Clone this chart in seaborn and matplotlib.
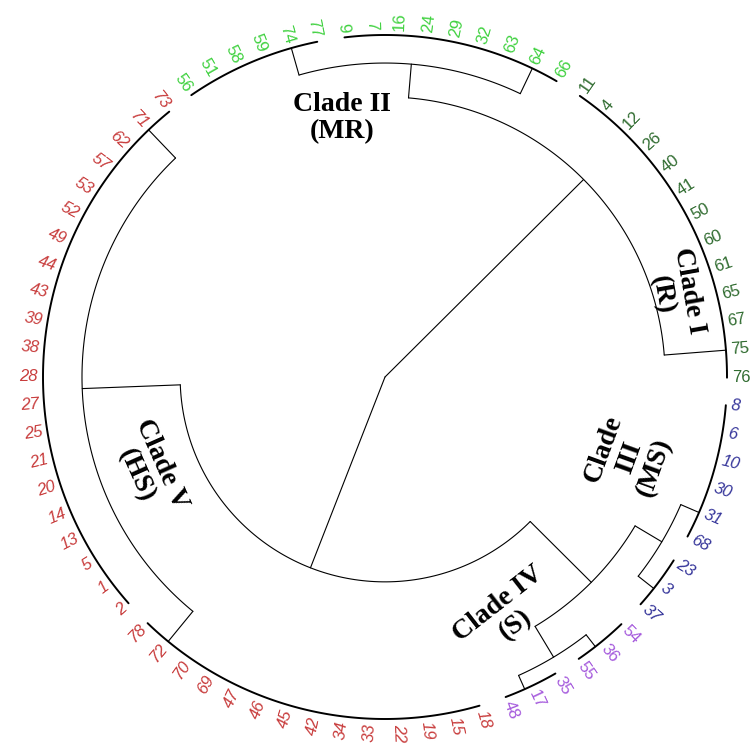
import numpy as np
import pandas as pd
import matplotlib
matplotlib.use('Agg')
import matplotlib.pyplot as plt
import seaborn as sns

# leaf groups (genotypes joined at zero distance), clockwise from upper left
grp_2a = [56, 51, 58, 59, 74, 77]
grp_2b = [9, 7, 16, 24, 29, 32, 63, 64, 66]
grp_1 = [11, 4, 12, 26, 40, 41, 50, 60, 61, 65, 67, 75, 76]
grp_3a = [8, 6, 10, 30, 31, 68]
grp_3b = [23, 3, 37]
grp_4a = [54, 36, 55]
grp_4b = [35, 17, 48]
grp_5a = [18, 15, 19, 22, 33, 34, 42, 45, 46, 47, 69, 70, 72, 78]
grp_5b = [2, 1, 5, 13, 14, 20, 21, 25, 27, 28, 38, 39, 43, 44, 49, 52, 53,
          57, 62, 71, 73]

group_names = ['2a', '2b', '1', '3a', '3b', '4a', '4b', '5a', '5b']
group_members = [grp_2a, grp_2b, grp_1, grp_3a, grp_3b, grp_4a, grp_4b,
                 grp_5a, grp_5b]
group_clade = ['II', 'II', 'I', 'III', 'III', 'IV', 'IV', 'V', 'V']

# merges: node, two children, relative distance (root = 1)
merge_node = ['II', 'I+II', 'III', 'IV', 'III+IV', 'V', 'III-V', 'root']
merge_a = ['2a', 'II', '3a', '4a', 'III', '5a', 'III+IV', 'I+II']
merge_b = ['2b', '1', '3b', '4b', 'IV', '5b', 'V', 'III-V']
merge_dist = [0.082, 0.181, 0.058, 0.044, 0.149, 0.114, 0.401, 1.0]

clade_ids = ['I', 'II', 'III', 'IV', 'V']
clade_text = ['Clade I\n(R)', 'Clade II\n(MR)', 'Clade\nIII\n(MS)',
              'Clade IV\n(S)', 'Clade V\n(HS)']

# style / layout
W, H = 752, 749
CX, CY = 385, 377
R_LEAF = 342
LABEL_R = 347
START = 124.5
COLORS = {'I': '#2f6b2f', 'II': '#3fd13f', 'III': '#35359a',
          'IV': '#a458dc', 'V': '#c83c3c'}
ITALIC = {'I': 'normal', 'II': 'normal', 'III': 'italic', 'IV': 'normal',
          'V': 'italic'}
CLADE_POS = {'I': (676, 293, -80), 'II': (342, 118, 0), 'III': (629, 458, 70),
             'IV': (507, 614, 38), 'V': (149, 470, -66)}

n_leaves = sum(len(g) for g in group_members)
step = 360.0 / n_leaves


def ang(p):
    return np.deg2rad(START - p * step)


def xy(p, r):
    a = ang(p)
    return CX + r * np.cos(a), CY - r * np.sin(a)


segs = []


def add_seg(kind, p0, p1, r0, r1):
    ps = np.linspace(p0, p1, 120)
    rs = np.linspace(r0, r1, 120)
    x, y = xy(ps, rs)
    segs.append(pd.DataFrame({'x': x, 'y': y, 'seg': len(segs), 'kind': kind}))


pos, rad = {}, {}
leaf_rows = []
idx = 0
for name, members, clade in zip(group_names, group_members, group_clade):
    s = idx
    p = s
    for k in range(1, len(members)):
        p = (p + s + k) / 2.0
    pos[name], rad[name] = p, R_LEAF
    add_seg('outer', s, s + len(members) - 1, R_LEAF, R_LEAF)
    for m in members:
        leaf_rows.append((idx, m, clade))
        idx += 1

for node, a, b, d in zip(merge_node, merge_a, merge_b, merge_dist):
    r = R_LEAF * (1 - d)
    pa, pb = pos[a], pos[b]
    if r > 0:
        add_seg('inner', pa, pb, r, r)
    add_seg('inner', pa, pa, r, rad[a])
    add_seg('inner', pb, pb, r, rad[b])
    pos[node], rad[node] = (pa + pb) / 2.0, r

df = pd.concat(segs, ignore_index=True)

sns.set_theme(style='white')
fig = plt.figure(figsize=(W / 100, H / 100), dpi=100)
ax = fig.add_axes([0, 0, 1, 1])

sns.lineplot(data=df[df['kind'] == 'inner'], x='x', y='y', units='seg',
             estimator=None, sort=False, color='black', linewidth=0.8,
             legend=False, ax=ax)
sns.lineplot(data=df[df['kind'] == 'outer'], x='x', y='y', units='seg',
             estimator=None, sort=False, color='black', linewidth=1.4,
             legend=False, ax=ax)

for i, lab, clade in leaf_rows:
    deg = START - i * step
    x, y = xy(i, LABEL_R)
    c = np.cos(np.deg2rad(deg))
    rot = deg if c >= 0 else deg + 180
    ax.text(x, y, str(lab), rotation=rot, rotation_mode='anchor',
            ha='left' if c >= 0 else 'right', va='center',
            fontsize=12, color=COLORS[clade], style=ITALIC[clade],
            family='Liberation Sans')

for cid, txt in zip(clade_ids, clade_text):
    px, py, rot = CLADE_POS[cid]
    ax.text(px, py, txt, rotation=rot, rotation_mode='anchor',
            ha='center', va='center', multialignment='center',
            fontsize=20, fontweight='bold', family='Liberation Serif',
            color='black', linespacing=1.1)

ax.set_xlim(0, W)
ax.set_ylim(H, 0)
ax.axis('off')

fig.savefig('out.png', dpi=100)
plt.close(fig)
